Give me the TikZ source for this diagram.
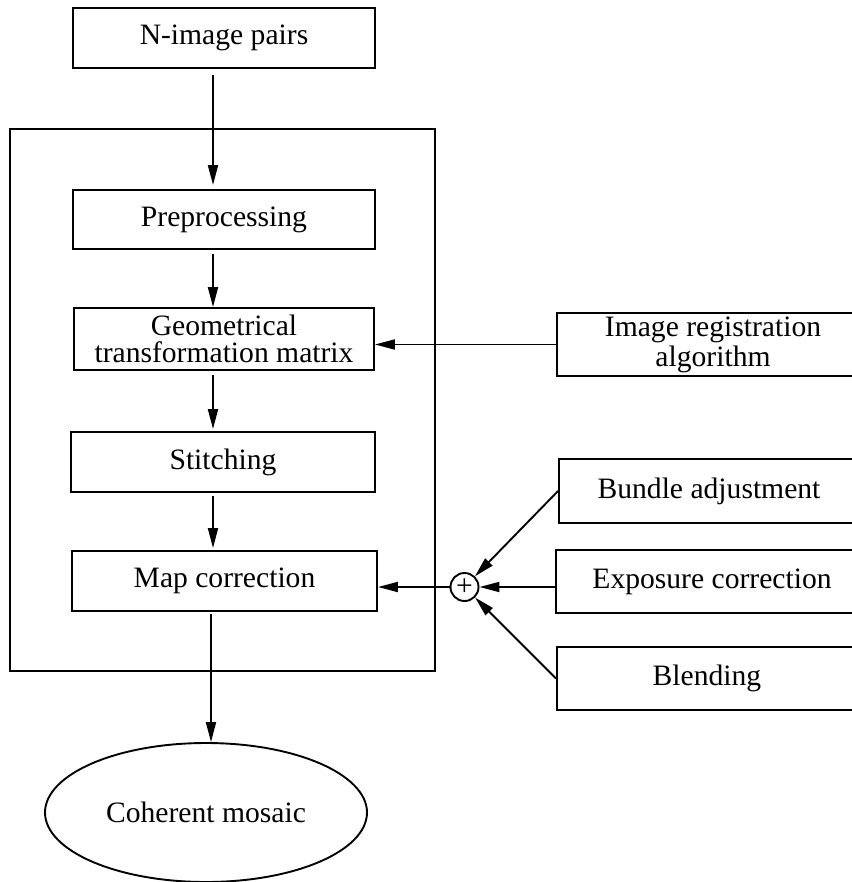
\documentclass[tikz,border=0pt]{standalone}
\usepackage{fontspec}
\setmainfont{Liberation Serif}
\usetikzlibrary{arrows.meta,shapes.geometric}
\tikzset{
	blk/.style={draw, rectangle, inner sep=0pt, align=center},
	arr/.style={-{Triangle[length=10pt,width=5pt]}},
}
\begin{document}
\begin{tikzpicture}[x=0.5pt,y=-0.5pt,line width=0.95pt,font=\fontsize{14.8}{15}\selectfont]
			\useasboundingbox (0,0) rectangle (851,882);
			% main chain
			\node[blk, minimum width=212.5pt, minimum height=271pt] (frame) at (222.5,400) {};
			\node[blk, minimum width=151pt, minimum height=30pt] (pairs) at (224,38) {N-image pairs};
			\node[blk, minimum width=151pt, minimum height=29.5pt] (pre) at (224,219.5) {Preprocessing};
			\node[blk, minimum width=150pt, minimum height=31pt, font=\fontsize{14.8}{13.2}\selectfont] (geo) at (224,339) {Geometrical\\transformation matrix};
			\node[blk, minimum width=152pt, minimum height=30pt] (stitch) at (223,462) {Stitching};
			\node[blk, minimum width=152.5pt, minimum height=30pt] (mapc) at (224.5,581) {Map correction};
			\node[draw, ellipse, inner sep=0pt, minimum width=161pt, minimum height=69.5pt] (mosaic) at (206,812.5) {Coherent mosaic};
			% inputs on the right
			\node[blk, minimum width=156pt, minimum height=31.5pt] (reg) at (713,344.5) {Image registration\\algorithm};
			\node[blk, minimum width=150pt, minimum height=32pt] (bund) at (709,491) {Bundle adjustment};
			\node[blk, minimum width=156pt, minimum height=31.5pt] (expo) at (712,581.5) {Exposure correction};
			\node[blk, minimum width=150pt, minimum height=31.5pt] (blend) at (707,678.5) {Blending};
			\node[draw, circle, inner sep=0pt, minimum size=14pt] (sum) at (464.5,587) {+};
			% arrows
			\coordinate (ax) at (213,0);
			\draw[arr, shorten <=3pt, shorten >=2pt] (pairs.south -| ax) -- (pre.north -| ax);
			\draw[arr, shorten <=2pt] (pre.south -| ax) -- (geo.north -| ax);
			\draw[arr, shorten <=2pt, shorten >=1pt] (geo.south -| ax) -- (stitch.north -| ax);
			\draw[arr, shorten <=1.5pt, shorten >=1pt] (stitch.south -| ax) -- (mapc.north -| ax);
			\draw[arr, shorten <=1pt] ([xshift=-1pt]mapc.south -| ax) -- ([xshift=-1pt]mosaic.north -| ax);
			\draw[arr] (reg.west) -- (reg.west -| geo.east);
			\draw[arr] (bund.west) -- (sum);
			\draw[arr] (sum -| expo.west) -- (sum);
			\draw[arr] (blend.west) -- (sum);
			\draw[arr] (sum) -- (sum -| mapc.east);
		\end{tikzpicture}
\end{document}
